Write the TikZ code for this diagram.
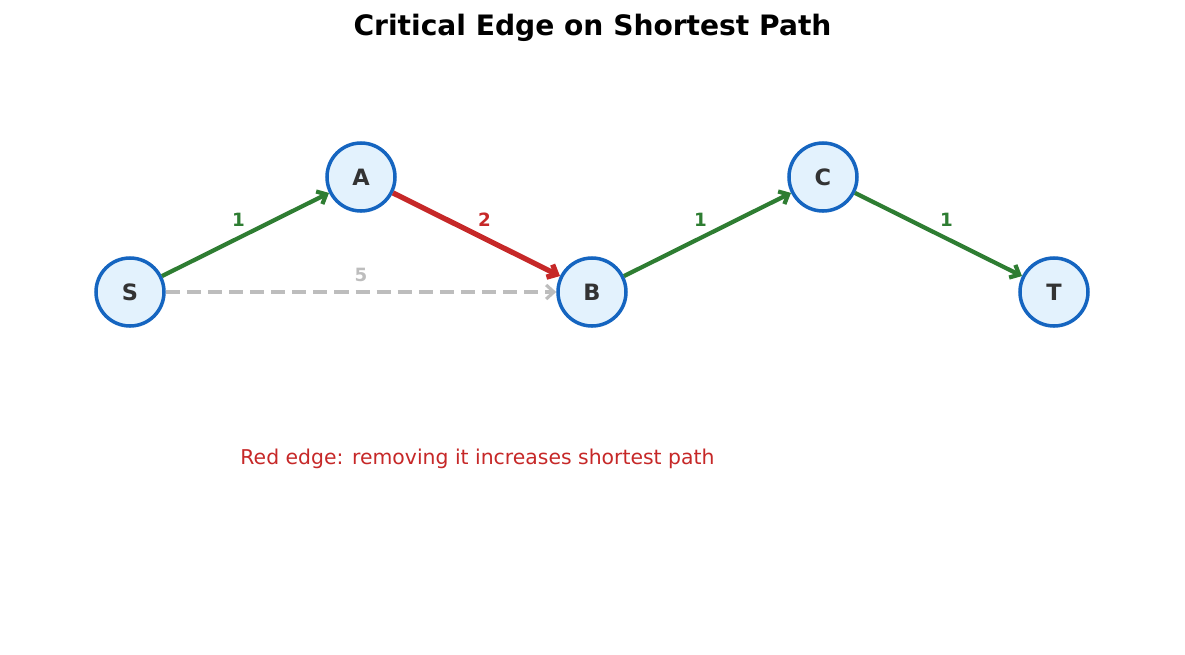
\documentclass[tikz,border=0pt]{standalone}
\usepackage{fontspec}
\setmainfont{DejaVu Sans}
\usetikzlibrary{arrows.meta}
\definecolor{nodeblue}{HTML}{1565C0}
\definecolor{nodefill}{HTML}{E3F2FD}
\definecolor{pathgreen}{HTML}{2E7D32}
\definecolor{critred}{HTML}{C62828}
\definecolor{altgray}{HTML}{BDBDBD}
\definecolor{labeltext}{HTML}{333333}

\begin{document}
\begin{tikzpicture}
            \tikzset{
                vertex/.style={circle, draw=nodeblue, line width=1pt, fill=nodefill, minimum size=0.68cm, inner sep=0pt, text=labeltext, font=\fontsize{6.4}{7}\selectfont\bfseries},
                edge/.style={line width=1.2pt, -{Straight Barb[length=2.2pt, width=4pt]}},
                weight/.style={font=\fontsize{5.2}{6}\selectfont\bfseries}
            }
            \useasboundingbox (0, 0) rectangle (11.85, 6.54);
            \node[font=\fontsize{8}{9}\selectfont\bfseries] (title) at (5.925, 6.26) {Critical Edge on Shortest Path};

            \node[vertex] (S) at (1.30, 3.62) {S};
            \node[vertex] (A) at (3.61, 4.77) {A};
            \node[vertex] (B) at (5.92, 3.62) {B};
            \node[vertex] (C) at (8.23, 4.77) {C};
            \node[vertex] (T) at (10.54, 3.62) {T};

            \draw[edge, pathgreen] (S) -- node[weight, xshift=-0.07cm, yshift=0.15cm] {1} (A);
            \draw[edge, critred, line width=1.5pt] (A) -- node[weight, xshift=0.08cm, yshift=0.15cm] {2} (B);
            \draw[edge, pathgreen] (B) -- node[weight, xshift=-0.07cm, yshift=0.15cm] {1} (C);
            \draw[edge, pathgreen] (C) -- node[weight, xshift=0.08cm, yshift=0.15cm] {1} (T);
            \draw[edge, altgray, line width=0.9pt, dash pattern=on 4pt off 2pt] (S) -- node[weight, yshift=0.17cm] {5} (B);

            \node[text=critred, font=\fontsize{5.8}{7}\selectfont] (note) at (4.775, 1.95) {Red edge: removing it increases shortest path};
        \end{tikzpicture}
\end{document}
